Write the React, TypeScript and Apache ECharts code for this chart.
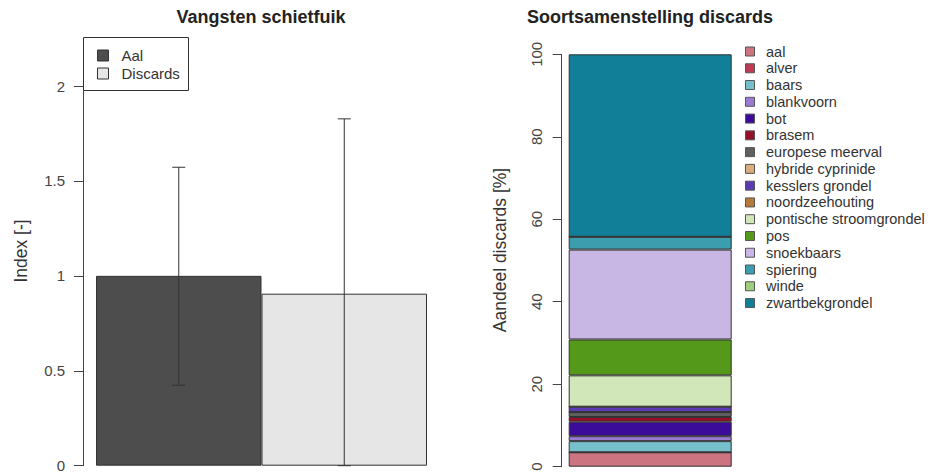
import React, { useEffect, useRef } from "react";
import * as echarts from "echarts";

// ---- Left chart data ----
const leftCategories = ["Aal", "Discards"];
const indexValues = [1.0, 0.906];
const errorLow = [0.424, 0];
const errorHigh = [1.572, 1.827];
const leftColors = ["#4D4D4D", "#E6E6E6"];
const leftTicks = [0, 0.5, 1, 1.5, 2];

// ---- Right chart data ----
const species = [
  "aal",
  "alver",
  "baars",
  "blankvoorn",
  "bot",
  "brasem",
  "europese meerval",
  "hybride cyprinide",
  "kesslers grondel",
  "noordzeehouting",
  "pontische stroomgrondel",
  "pos",
  "snoekbaars",
  "spiering",
  "winde",
  "zwartbekgrondel",
];
const speciesShare = [3.5, 0, 2.7, 1.2, 3.5, 1.15, 1.2, 0, 1.3, 0, 7.6, 8.7, 21.8, 3.1, 0, 44.25];
const speciesColors = [
  "#CC7480",
  "#BE3B55",
  "#76C0CC",
  "#9A7BD4",
  "#3B0C99",
  "#97102A",
  "#5F5F5F",
  "#D9AE7C",
  "#5B3AB3",
  "#B57A3A",
  "#D1E7BA",
  "#55991A",
  "#C8B7E4",
  "#3C9DAF",
  "#9FCF7B",
  "#127F99",
];
const rightTicks = [0, 20, 40, 60, 80, 100];

const FONT = "'Liberation Sans', Arial, sans-serif";

export default function App() {
  const ref = useRef<HTMLDivElement>(null);

  useEffect(() => {
    if (!ref.current) return;
    const chart = echarts.init(ref.current, null, { renderer: "svg" });

    const leftSeries: any[] = leftCategories.map((name, i) => ({
      name,
      type: "bar",
      xAxisIndex: 0,
      yAxisIndex: 0,
      stack: "left",
      barWidth: "100%",
      data: leftCategories.map((_, j) => (j === i ? indexValues[i] : "-")),
      itemStyle: { color: leftColors[i], borderColor: "#333", borderWidth: 1 },
      emphasis: { disabled: true },
    }));

    const errorSeries = {
      type: "custom",
      xAxisIndex: 0,
      yAxisIndex: 0,
      z: 10,
      data: leftCategories.map((_, i) => [i, errorLow[i], errorHigh[i]]),
      encode: { x: 0, y: [1, 2] },
      renderItem: (params: any, api: any) => {
        const lo = api.coord([api.value(0), api.value(1)]);
        const hi = api.coord([api.value(0), api.value(2)]);
        const half = 6.5;
        const st = { stroke: "#333", lineWidth: 1 };
        return {
          type: "group",
          children: [
            { type: "line", shape: { x1: lo[0], y1: lo[1], x2: hi[0], y2: hi[1] }, style: st },
            { type: "line", shape: { x1: hi[0] - half, y1: hi[1], x2: hi[0] + half, y2: hi[1] }, style: st },
            { type: "line", shape: { x1: lo[0] - half, y1: lo[1], x2: lo[0] + half, y2: lo[1] }, style: st },
          ],
        };
      },
    };

    const rightSeries: any[] = species.map((name, i) => ({
      name,
      type: "bar",
      xAxisIndex: 1,
      yAxisIndex: 1,
      stack: "right",
      barWidth: "100%",
      data: [speciesShare[i]],
      itemStyle: { color: speciesColors[i], borderColor: "#333", borderWidth: 1 },
      emphasis: { disabled: true },
    }));

    const txt = (text: string, x: number, y: number, size: number, extra: any = {}) => ({
      type: "text",
      x,
      y,
      z: 100,
      ...extra,
      style: {
        text,
        fontSize: size,
        fontFamily: FONT,
        fill: "#333",
        textAlign: extra.align || "left",
        textVerticalAlign: "middle",
        align: extra.align || "left",
        verticalAlign: "middle",
      },
    });

    const graphics: any[] = [];
    // left legend box
    graphics.push({
      type: "rect",
      z: 90,
      shape: { x: 83.5, y: 37.5, width: 105, height: 53 },
      style: { fill: "#fff", stroke: "#333", lineWidth: 1 },
    });
    const leftLegendY = [55.5, 73.5];
    leftCategories.forEach((name, i) => {
      graphics.push({
        type: "rect",
        z: 95,
        shape: { x: 97.5, y: leftLegendY[i] - 5.5, width: 11, height: 11 },
        style: { fill: leftColors[i], stroke: "#333", lineWidth: 1 },
      });
      graphics.push(txt(name, 121.5, leftLegendY[i], 15));
    });
    // right legend
    species.forEach((name, i) => {
      const cy = 51.5 + i * 16.77;
      graphics.push({
        type: "rect",
        z: 95,
        shape: { x: 745.5, y: cy - 4.5, width: 9, height: 9 },
        style: { fill: speciesColors[i], stroke: "#555", lineWidth: 1 },
      });
      graphics.push(txt(name, 766, cy, 14.5));
    });
    // axis names
    graphics.push(txt("Index [-]", 20.5, 251, 17.5, { rotation: Math.PI / 2, align: "center" }));
    graphics.push(txt("Aandeel discards [%]", 500, 250, 17.5, { rotation: Math.PI / 2, align: "center" }));

    chart.setOption({
      animation: false,
      backgroundColor: "#fff",
      textStyle: { fontFamily: FONT },
      title: [
        {
          text: "Vangsten schietfuik",
          left: 261,
          top: 8,
          padding: 0,
          textAlign: "center",
          textStyle: { fontSize: 18, fontWeight: "bold", color: "#222", fontFamily: FONT },
        },
        {
          text: "Soortsamenstelling discards",
          left: 650,
          top: 8,
          padding: 0,
          textAlign: "center",
          textStyle: { fontSize: 18, fontWeight: "bold", color: "#222", fontFamily: FONT },
        },
      ],
      grid: [
        { left: 96, right: 501, top: 86, bottom: 9.3, containLabel: false },
        { left: 568.7, right: 196.3, top: 54.3, bottom: 8.3, containLabel: false },
      ],
      xAxis: [
        { type: "category", gridIndex: 0, data: leftCategories, show: false },
        { type: "category", gridIndex: 1, data: ["discards"], show: false },
      ],
      yAxis: [
        {
          type: "value",
          gridIndex: 0,
          min: leftTicks[0],
          max: leftTicks[leftTicks.length - 1],
          interval: 0.5,
          offset: 13,
          splitLine: { show: false },
          axisLine: { show: true, lineStyle: { color: "#444", width: 1 } },
          axisTick: { show: true, length: 9, lineStyle: { color: "#444" } },
          axisLabel: { margin: 18, fontSize: 15, color: "#444", fontFamily: FONT },
        },
        {
          type: "value",
          gridIndex: 1,
          min: rightTicks[0],
          max: rightTicks[rightTicks.length - 1],
          interval: 20,
          offset: 7,
          splitLine: { show: false },
          axisLine: { show: true, lineStyle: { color: "#444", width: 1 } },
          axisTick: { show: true, length: 9, lineStyle: { color: "#444" } },
          axisLabel: { margin: 18, fontSize: 15, color: "#444", rotate: 90, fontFamily: FONT },
        },
      ],
      series: [...leftSeries, errorSeries, ...rightSeries],
      graphic: graphics,
    });

    return () => chart.dispose();
  }, []);

  return (
    <div
      ref={ref}
      style={{ position: "absolute", left: 0, top: 0, width: 928, height: 475 }}
    />
  );
}
